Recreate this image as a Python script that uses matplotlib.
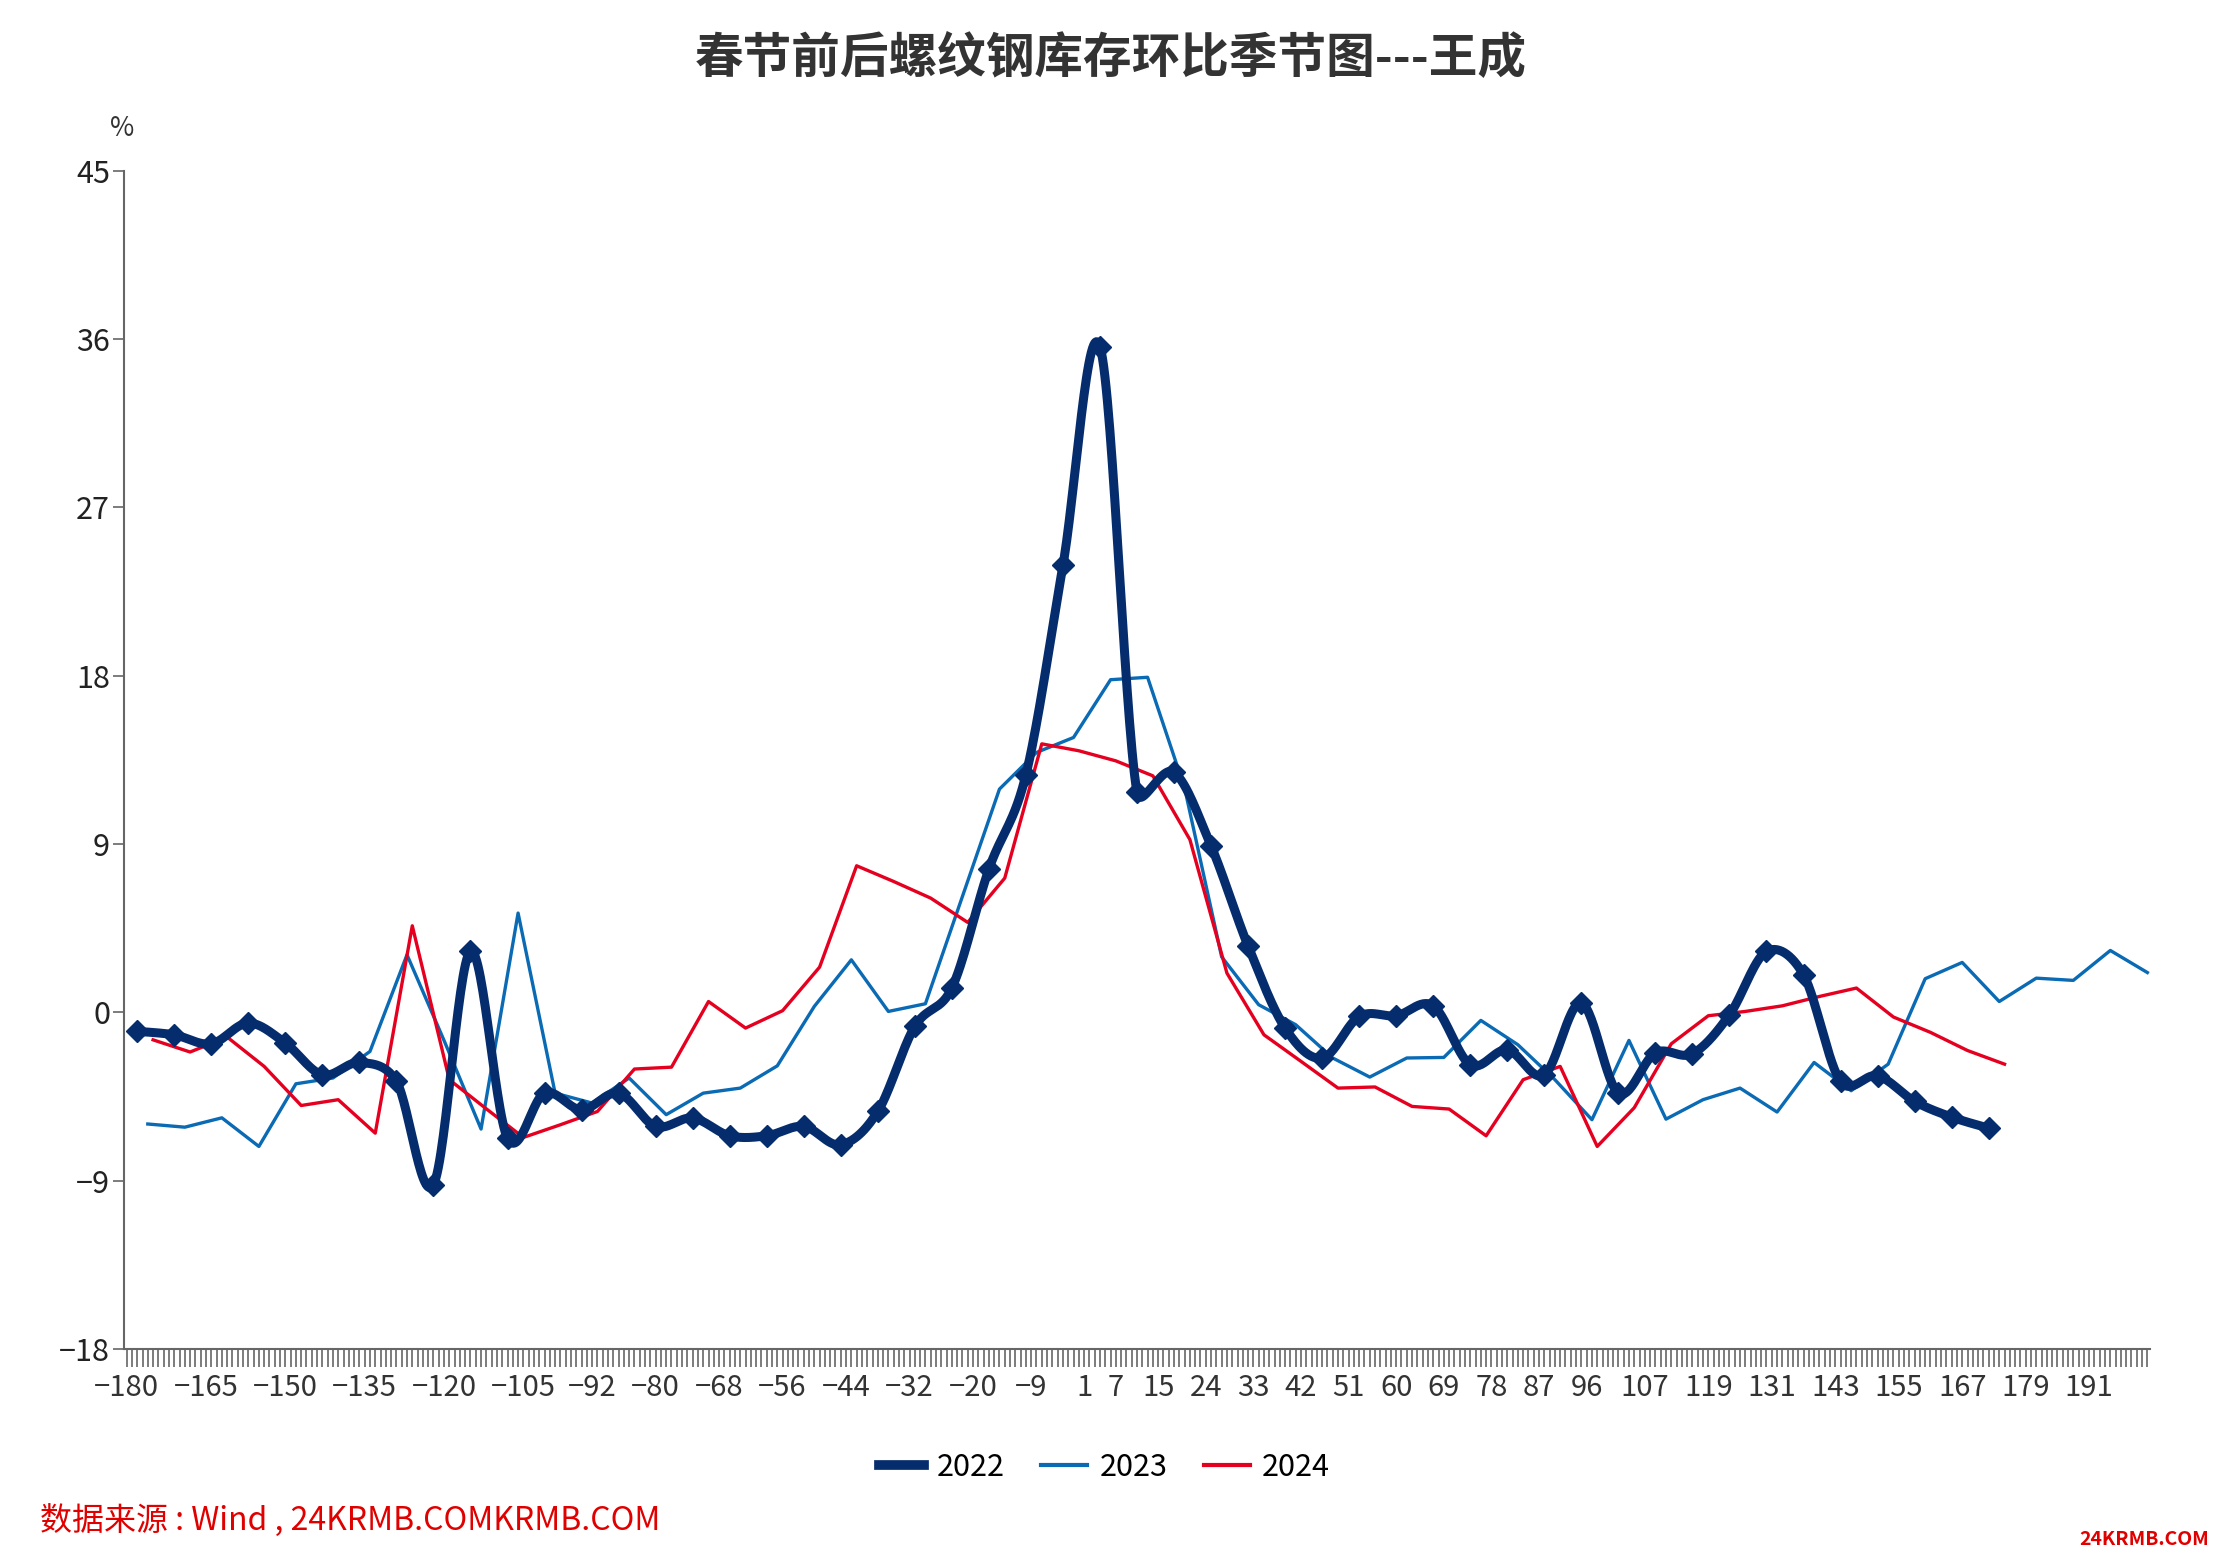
import numpy as np
import matplotlib
matplotlib.use('Agg')
import matplotlib.pyplot as plt
from matplotlib.lines import Line2D

plt.rcParams['font.family'] = ['Noto Sans CJK SC', 'DejaVu Sans']

### weekly readings, days relative to Spring Festival
x2022 = np.arange(-178, 173, 7)
y2022 = [-1.02, -1.2, -1.68, -0.57, -1.64, -3.34, -2.68, -3.69, -9.22, 3.26,
         -6.72, -4.32, -5.21, -4.32, -6.1, -5.65, -6.6, -6.6, -6.1, -7.08,
         -5.3, -0.75, 1.3, 7.66, 12.7, 23.9, 35.6, 11.77, 12.84, 8.9,
         3.55, -0.84, -2.45, -0.22, -0.18, 0.35, -2.8, -2.0, -3.34, 0.5,
         -4.32, -2.16, -2.21, -0.13, 3.26, 2.01, -3.69, -3.39, -4.76, -5.6,
         -6.19]

x2023 = np.arange(-176, 203, 7)
y2023 = [-5.97, -6.14, -5.64, -7.17, -3.82, -3.51, -2.09, 3.08, -1.5, -6.24,
         5.31, -4.32, -4.85, -3.51, -5.47, -4.32, -4.05, -2.86, 0.32, 2.81,
         0.05, 0.46, 6.2, 11.94, 13.9, 14.7, 17.79, 17.92, 12.0, 2.97,
         0.41, -0.66, -2.44, -3.46, -2.44, -2.41, -0.43, -1.73, -3.6, -5.74,
         -1.5, -5.71, -4.67, -4.05, -5.33, -2.68, -4.19, -2.77, 1.8, 2.67,
         0.58, 1.83, 1.71, 3.31, 2.13]

x2024 = np.arange(-175, 176, 7)
y2024 = [-1.47, -2.12, -1.32, -2.89, -4.98, -4.67, -6.46, 4.63, -3.6, -5.16,
         -6.69, -6.01, -5.3, -3.03, -2.93, 0.58, -0.84, 0.09, 2.42, 7.84,
         7.0, 6.11, 4.81, 7.18, 14.36, 13.99, 13.45, 12.65, 9.24, 2.1,
         -1.2, -2.62, -4.05, -3.99, -5.03, -5.17, -6.6, -3.6, -2.89, -7.17,
         -5.1, -1.68, -0.18, 0.05, 0.35, 0.85, 1.3, -0.25, -1.07, -2.04,
         -2.77]

xlabels = [-180, -165, -150, -135, -120, -105, -92, -80, -68, -56, -44, -32,
           -20, -9, 1, 7, 15, 24, 33, 42, 51, 60, 69, 78, 87, 96, 107, 119,
           131, 143, 155, 167, 179, 191]
yticks = [-18, -9, 0, 9, 18, 27, 36, 45]

C22 = '#052d6e'
C23 = '#0a6ab4'
C24 = '#e60020'


def smooth(x, y, sx=5.3, sy=18.7, n=30, frac=0.5):
    # bezier "smoothed line": tangents (P2-P0)/6, clipped to a share of the
    # neighbouring segment so steep drops don't overshoot. done in screen units
    P = np.column_stack([np.asarray(x, float) * sx, np.asarray(y, float) * sy])
    m = len(P)
    tan = np.zeros_like(P)
    tan[1:-1] = (P[2:] - P[:-2]) / 6.0
    t = np.linspace(0, 1, n, endpoint=False)[:, None]
    pts = []
    for i in range(m - 1):
        a, b = P[i], P[i + 1]
        seg = np.hypot(*(b - a))
        c1, c2 = tan[i].copy(), tan[i + 1].copy()
        for c in (c1, c2):
            L = np.hypot(*c)
            if L > frac * seg:
                c *= frac * seg / L
        q1, q2 = a + c1, b - c2
        pts.append((1 - t) ** 3 * a + 3 * (1 - t) ** 2 * t * q1
                   + 3 * (1 - t) * t ** 2 * q2 + t ** 3 * b)
    pts.append(P[-1:])
    pts = np.vstack(pts)
    return pts[:, 0] / sx, pts[:, 1] / sy


fig = plt.figure(figsize=(22.22, 15.68), dpi=100)
ax = fig.add_axes([0.0558, 0.1397, 0.9118, 0.7513])

sx, sy = smooth(x2022, y2022)
ax.plot(sx, sy, color=C22, lw=6.5, solid_capstyle='round', zorder=3)
ax.plot(x2022, y2022, ls='none', marker='D', ms=11, color=C22, zorder=4)
ax.plot(x2023, y2023, color=C23, lw=2.4, zorder=2)
ax.plot(x2024, y2024, color=C24, lw=2.4, zorder=2)

ax.set_xlim(-180.5, 202.5)
ax.set_ylim(-18, 45)
ax.set_yticks(yticks)
ax.set_xticks(xlabels)
ax.set_xticks(np.arange(-180, 203), minor=True)
ax.tick_params(axis='x', which='both', direction='out', length=13, width=1.2,
               color='#666666', labelsize=21, labelcolor='#333333', pad=4)
ax.tick_params(axis='y', direction='out', length=8, width=1.2,
               color='#666666', labelsize=22, labelcolor='#222222', pad=2)
for s in ['top', 'right']:
    ax.spines[s].set_visible(False)
for s in ['left', 'bottom']:
    ax.spines[s].set_color('#666666')
    ax.spines[s].set_linewidth(1.5)

fig.text(0.5, 0.963, '春节前后螺纹钢库存环比季节图---王成', fontsize=35,
         fontweight='bold', color='#333333', ha='center', va='center')
fig.text(0.055, 0.918, '%', fontsize=19, color='#333333', ha='center', va='center')

handles = [Line2D([], [], color=C22, lw=7),
           Line2D([], [], color=C23, lw=3),
           Line2D([], [], color=C24, lw=3)]
fig.legend(handles, ['2022', '2023', '2024'], loc='center', ncol=3,
           bbox_to_anchor=(0.497, 0.064), frameon=False, fontsize=22,
           handlelength=1.5, handletextpad=0.4, columnspacing=1.2)

fig.text(0.018, 0.030, '数据来源 : Wind , 24KRMB.COMKRMB.COM', fontsize=23,
         color='#e00000', ha='left', va='center')
fig.text(0.994, 0.018, '24KRMB.COM', fontsize=14, color='#e00000',
         fontweight='bold', fontstyle='italic', ha='right', va='center')

fig.savefig('out.png', dpi=100, facecolor='white')
